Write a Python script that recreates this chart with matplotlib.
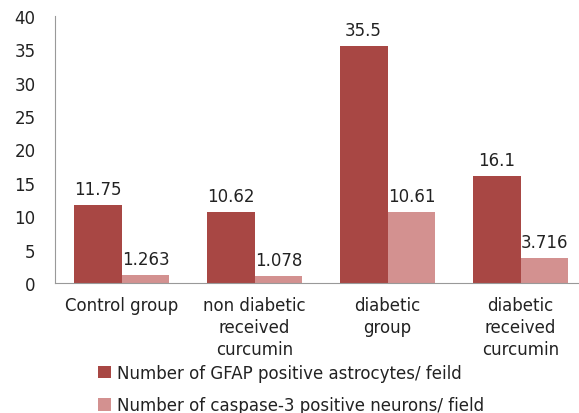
import matplotlib
matplotlib.use('Agg')
from matplotlib import pyplot as plt
import numpy as np

categories = ['Control group', 'non diabetic\nreceived\ncurcumin', 'diabetic\ngroup', 'diabetic\nreceived\ncurcumin']
gfap = [11.75, 10.62, 35.5, 16.1]
caspase = [1.263, 1.078, 10.61, 3.716]
gfap_labels = ['11.75', '10.62', '35.5', '16.1']
caspase_labels = ['1.263', '1.078', '10.61', '3.716']
series_names = ['Number of GFAP positive astrocytes/ feild',
                'Number of caspase-3 positive neurons/ field']

dark = '#A84744'
light = '#D39190'
fs = 12

fig = plt.figure(figsize=(5.79, 4.14), dpi=100)
ax = fig.add_axes([0.095, 0.314, 0.919, 0.645])

x = np.arange(len(categories))
w = 0.36
b1 = ax.bar(x - w / 2, gfap, w, color=dark, label=series_names[0])
b2 = ax.bar(x + w / 2, caspase, w, color=light, label=series_names[1])

# value labels above bars
for rect, txt in zip(b1, gfap_labels):
    ax.annotate(txt, (rect.get_x() + rect.get_width() / 2, rect.get_height()),
                xytext=(0, 5), textcoords='offset points', ha='center', va='bottom',
                fontsize=fs, color='#222222')
for rect, txt in zip(b2, caspase_labels):
    ax.annotate(txt, (rect.get_x() + rect.get_width() / 2, rect.get_height()),
                xytext=(0, 5), textcoords='offset points', ha='center', va='bottom',
                fontsize=fs, color='#222222')

ax.set_xlim(-0.5, 3.5)
ax.set_ylim(0, 40)
ax.set_yticks(range(0, 41, 5))
ax.set_xticks(x)
ax.set_xticklabels(categories, fontsize=fs, color='#222222', linespacing=1.3)
ax.tick_params(axis='both', length=0, labelsize=fs, labelcolor='#222222')
ax.tick_params(axis='y', pad=14)
ax.tick_params(axis='x', pad=9)

for s in ['top', 'right']:
    ax.spines[s].set_visible(False)
ax.spines['left'].set_color('#999999')
ax.spines['bottom'].set_color('#999999')

fig.legend(handles=[b1, b2], loc='upper left', bbox_to_anchor=(0.17, 0.118),
           frameon=False, fontsize=fs, handlelength=0.75, handleheight=0.75,
           handletextpad=0.35, labelspacing=0.85, borderpad=0, borderaxespad=0,
           labelcolor='#222222')

plt.savefig('out.png')
